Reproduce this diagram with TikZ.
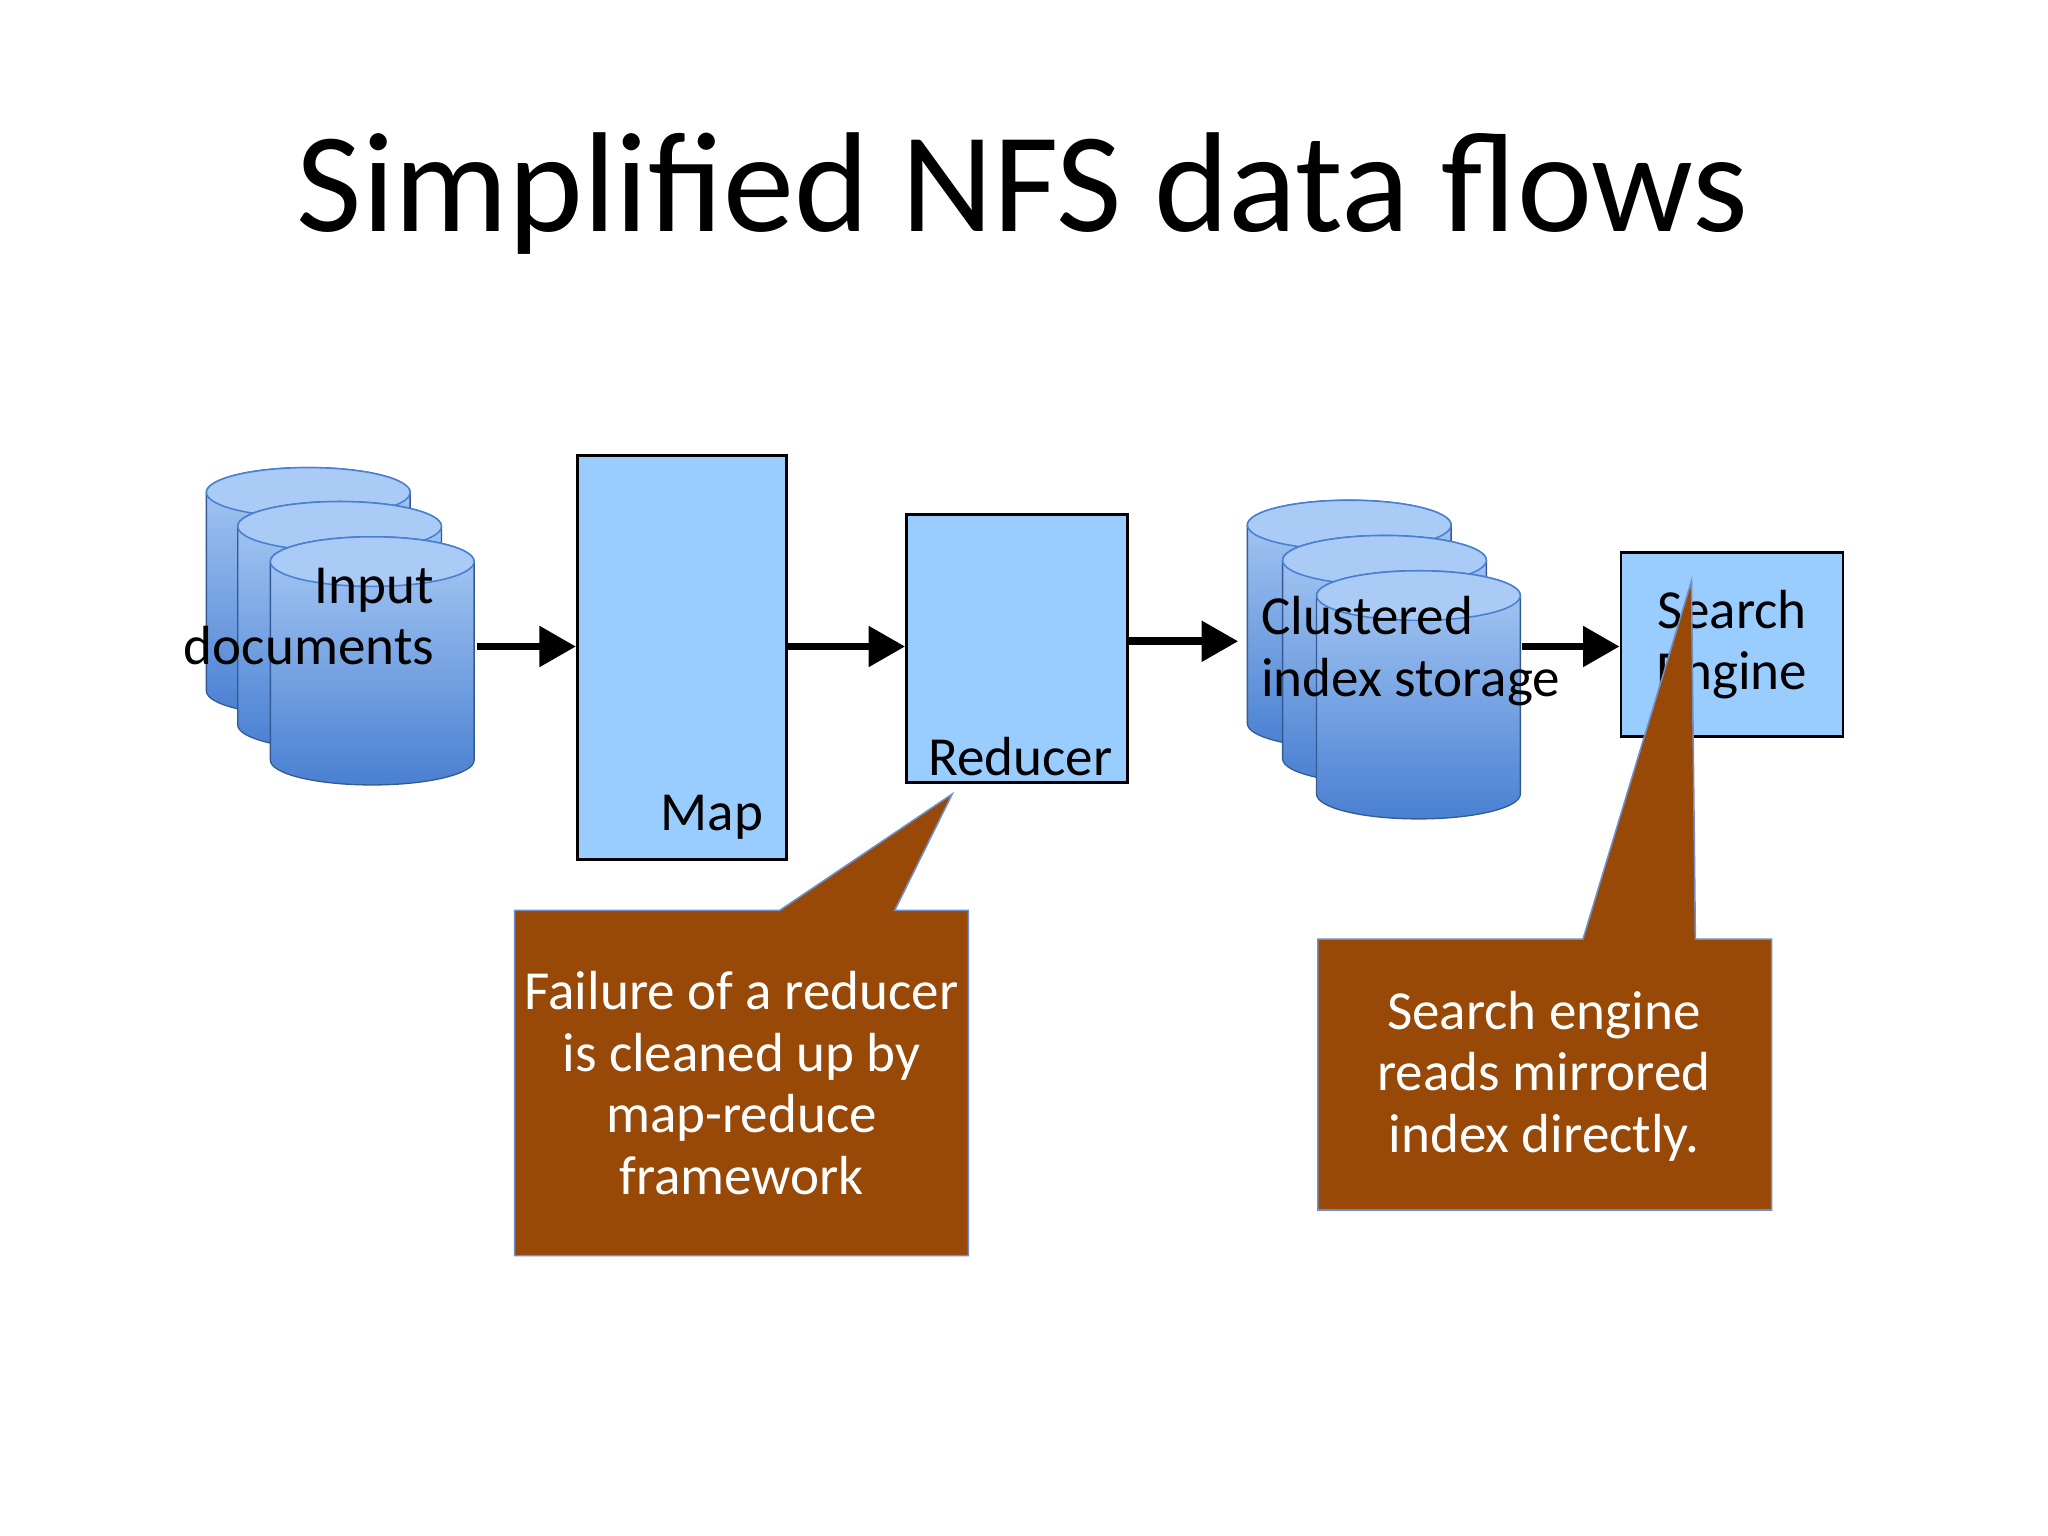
\documentclass[tikz,border=0pt]{standalone}
\usepackage{fontspec}
\setmainfont{Carlito}
\usetikzlibrary{arrows.meta,positioning}
\definecolor{boxblue}{HTML}{99CCFF}
\definecolor{cyltop}{HTML}{A9CBF5}
\definecolor{cylbot}{HTML}{4A80D2}
\definecolor{callbrown}{HTML}{984807}
\definecolor{callline}{HTML}{6F8FC8}
\tikzset{
	stage/.style = {draw, line width=0.02cm, fill=boxblue, inner sep=0pt},
	flow/.style = {line width=0.06cm, -{Triangle[length=0.28cm,width=0.3cm]}},
	lbl/.style = {font=\fontsize{12}{13.4}\selectfont, inner sep=0pt},
	callout/.style = {fill=callbrown, draw=callline, line width=0.012cm},
	calltext/.style = {text=white, align=center, font=\fontsize{12}{13.4}\selectfont}
}
% cylinder: x left, y top of body, name
\newcommand{\dbcyl}[3]{
	\shade[top color=cyltop, bottom color=cylbot, draw=cylbot!70!black, line width=0.01cm]
		(#1,#2) -- (#1,#2-1.52) arc[start angle=180, end angle=360, x radius=0.78, y radius=0.19]
		-- (#1+1.56,#2) arc[start angle=0, end angle=180, x radius=0.78, y radius=0.19];
	\draw[fill=cyltop, draw=cylbot, line width=0.012cm] (#1+0.78,#2) ellipse[x radius=0.78, y radius=0.19];
	\node (#3)[minimum width=1.56cm, minimum height=1.9cm, anchor=north west, inner sep=0pt] at(#1,#2+0.19) {};
}
\begin{document}
\begin{tikzpicture}
	\useasboundingbox (0,0) rectangle (15.68,11.76);
	\fill[white] (0,0) rectangle (15.68,11.76);

	\node (title) at(7.83,10.28) {\fontsize{31}{37}\selectfont Simplified NFS data flows};

	% input documents
	\dbcyl{1.58}{7.99}{in1}
	\dbcyl{1.82}{7.73}{in2}
	\dbcyl{2.07}{7.46}{in3}
	\node (inlbl)[lbl, align=right, anchor=north east] at(3.33,7.42) {Input\\documents};

	\node (map)[stage, minimum width=1.6cm, minimum height=3.09cm, anchor=north west] at(4.41,8.28) {};
	\node[lbl, anchor=base east] at(5.85,5.4) {Map};

	\node (red)[stage, minimum width=1.69cm, minimum height=2.05cm, anchor=north west] at(6.93,7.83) {};
	\node[lbl, anchor=base] at(7.81,5.82) {Reducer};

	% clustered index storage
	\dbcyl{9.55}{7.74}{st1}
	\dbcyl{9.82}{7.47}{st2}
	\dbcyl{10.08}{7.2}{st3}
	\node (stlbl)[lbl, align=left, anchor=north west] at(9.65,7.2) {Clustered\\index storage};

	\node (se)[stage, minimum width=1.7cm, minimum height=1.41cm, anchor=north west, align=center, lbl] at(12.4,7.54) {Search\\Engine};

	\draw [flow](3.65,6.81)--(map.west|-0,6.81);
	\draw [flow](map.east|-0,6.81)--(red.west|-0,6.81);
	\draw [flow](red.east|-0,6.85)--(9.48,6.85);
	\draw [flow](11.65,6.81)--(se.west|-0,6.81);

	% callouts
	\coordinate (tip1) at(7.29,5.68);
	\node (c1)[minimum width=3.46cm, minimum height=2.63cm, anchor=north west, inner sep=0pt] at(3.94,4.79) {};
	\draw[callout] (c1.north west) -- (5.97,4.79) -- (tip1) -- (6.85,4.79) -- (c1.north east) -- (c1.south east) -- (c1.south west) -- cycle;
	\node[calltext] at(c1.center) {Failure of a reducer\\is cleaned up by\\map-reduce\\framework};

	\coordinate (tip2) at(12.95,7.31);
	\node (c2)[minimum width=3.46cm, minimum height=2.06cm, anchor=north west, inner sep=0pt] at(10.09,4.57) {};
	\draw[callout] (c2.north west) -- (12.12,4.57) -- (tip2) -- (12.98,4.57) -- (c2.north east) -- (c2.south east) -- (c2.south west) -- cycle;
	\node[calltext] at(11.82,3.52) {Search engine\\reads mirrored\\index directly.};
\end{tikzpicture}
\end{document}
